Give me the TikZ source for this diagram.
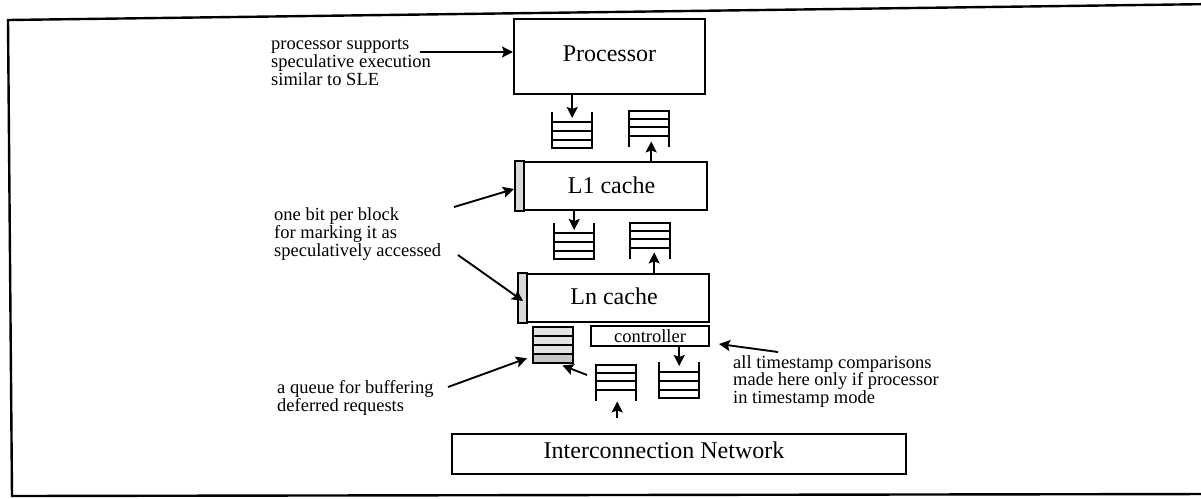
\documentclass[tikz,border=0pt]{standalone}
\usepackage{fontspec}
\setmainfont{Liberation Serif}
\usetikzlibrary{arrows.meta,calc}
\tikzset{
  box/.style={draw,line width=2pt,inner sep=0pt,anchor=north west,font=\fontsize{24}{24}\selectfont},
  ann/.style={anchor=base west,inner sep=0pt,font=\fontsize{18.5}{18.5}\selectfont},
  arr/.style={line width=1.9pt,-{Stealth[length=11pt,width=11pt,inset=2pt]}},
  ql/.style={line width=2.1pt},
  strip/.style={line width=1.5pt,fill=gray!30},
  qopen/.pic={
    \node[inner sep=0pt,minimum width=40pt,minimum height=36pt,anchor=north west] (-b) at (0,0) {};
    \draw[ql] (0,0) -- (0,36) -- (40,36) -- (40,0);
    \draw[ql] (0,10) -- (40,10) (0,19) -- (40,19) (0,28) -- (40,28);
  },
  qclosed/.pic={
    \node[inner sep=0pt,minimum width=40pt,minimum height=36pt,anchor=north west] (-b) at (0,0) {};
    \draw[ql] (0,36) -- (0,0) -- (40,0) -- (40,36);
    \draw[ql] (0,8) -- (40,8) (0,16) -- (40,16) (0,25) -- (40,25);
  }
}
\begin{document}
\begin{tikzpicture}[x=1pt,y=-1pt]
\useasboundingbox (0,0) rectangle (1201,498);
% frame
\draw[line width=2.4pt] (1215,4) -- (8,20) -- (12,496) -- (1215,494);

% boxes
\node[box,minimum width=191pt,minimum height=75pt,text height=16pt,text depth=7pt] (proc) at (513,18) {Processor};
\node[box,minimum width=191pt,minimum height=48pt,text height=16pt,text depth=2pt] (l1) at (515,161) {L1 cache};
\draw[strip] (l1.north west) rectangle ($(l1.south west)+(9,0)$);
\node[box,minimum width=190pt,minimum height=48pt,text height=16pt,text depth=4pt] (ln) at (518,273) {Ln cache};
\draw[strip] (ln.north west) rectangle ($(ln.south west)+(9,0)$);
\node[box,minimum width=118pt,minimum height=20pt,text height=13pt,text depth=1pt,font=\fontsize{18.5}{18.5}\selectfont] (ctrl) at (590,325) {controller};
\node[box,minimum width=454pt,minimum height=40pt] (net) at (451,433) {};
\node[anchor=base,inner sep=0pt,font=\fontsize{24}{24}\selectfont] (netlabel) at (664,458) {Interconnection Network};

% deferred queue
\node[inner sep=0pt,minimum width=40pt,minimum height=36pt,anchor=north west,fill=gray!22] (dq) at (533,327) {};
\fill[gray!45] ($(dq.north west)+(0,27)$) rectangle (dq.south east);
\draw[ql] (dq.north west) rectangle (dq.south east);
\draw[ql] ($(dq.north west)+(0,9)$) -- ++(40,0) ($(dq.north west)+(0,18)$) -- ++(40,0) ($(dq.north west)+(0,27)$) -- ++(40,0);

% queues
\path (552,112) pic (q1) {qopen};
\path (629,111) pic (q2) {qclosed};
\path (554,223) pic (q3) {qopen};
\path (630,223) pic (q4) {qclosed};
\path (596,365) pic (q5) {qclosed};
\path (659,362) pic (q6) {qopen};

% vertical arrows
\draw[arr] (q1-b.north |- proc.south) -- ($(q1-b.north)+(0,6)$);
\draw[arr] ($(q2-b.south |- l1.north)+(2,0)$) -- ($(q2-b.south)+(2,-6)$);
\draw[arr] (q3-b.north |- l1.south) -- ($(q3-b.north)+(0,7)$);
\draw[arr] ($(q4-b.south |- ln.north)+(4,0)$) -- ($(q4-b.south)+(4,-7)$);
\draw[arr] (q6-b.north |- ctrl.south) -- ($(q6-b.north)+(0,4)$);
\draw[arr] ($(q5-b.south |- net.north)+(1,-15)$) -- ($(q5-b.south)+(1,0)$);
\draw[arr] ($(q5-b.north west)+(-9,10)$) -- ($(dq.south east)+(-11,2)$);

% annotations
\node[ann] (p1) at (271,49) {processor supports};
\node[ann] (p2) at (271,67) {speculative execution};
\node[ann] (p3) at (271,85) {similar to SLE};
\coordinate (pa) at (420,52);
\draw[arr] (pa) -- (pa -| proc.west);

\node[ann] (b1) at (274,220) {one bit per block};
\node[ann] (b2) at (274,238) {for marking it as};
\node[ann] (b3) at (274,256) {speculatively accessed};
\coordinate (ba) at (454,207);
\coordinate (bb) at (458,255);
\draw[arr] (ba) -- ($(l1.west)+(-1,3)$);
\draw[arr] (bb) -- ($(ln.west)+(5,3)$);

\node[ann] (d1) at (277,393) {a queue for buffering};
\node[ann] (d2) at (277,411) {deferred requests};
\coordinate (da) at (448,387);
\draw[arr] (da) -- ($(dq.west)+(-6,13)$);

\node[ann] (t1) at (733,368) {all timestamp comparisons};
\node[ann] (t2) at (733,385) {made here only if processor};
\node[ann] (t3) at (733,403) {in timestamp mode};
\coordinate (ta) at (778,352);
\draw[arr] (ta) -- ($(ctrl.east)+(9,8)$);
\end{tikzpicture}
\end{document}
